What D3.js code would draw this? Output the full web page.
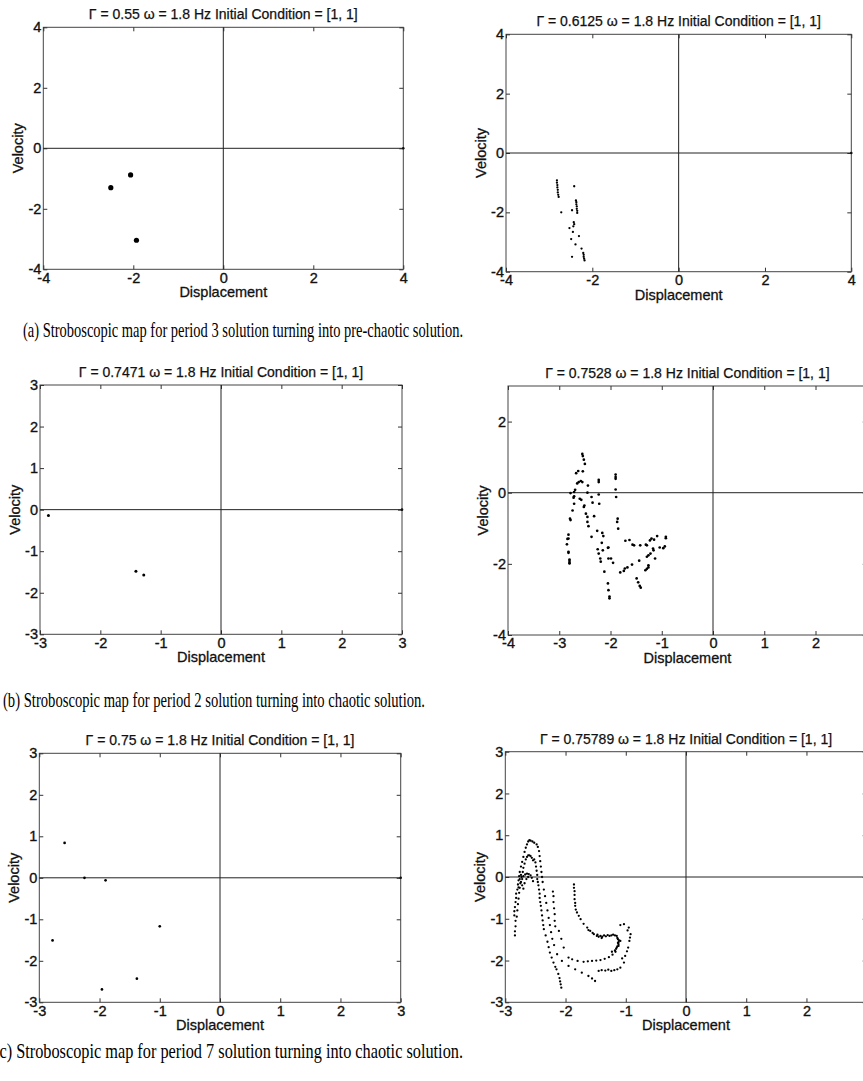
<!DOCTYPE html>
<html>
<head>
<meta charset="utf-8">
<script src="https://cdn.jsdelivr.net/npm/d3@7"></script>
<style>
  body { margin: 0; background: #fff; }
  svg { display: block; }
  .tick text { font-family: "Liberation Sans", Arial, sans-serif; font-size: 14.5px; fill: #111; stroke: #111; stroke-width: 0.35px; }
  .tick line { stroke: #333; }
</style>
</head>
<body>
<div id="chart"></div>
<script>
// panel titles and captions
const titles = [
  'Γ = 0.55 ω = 1.8 Hz Initial Condition = [1, 1]',
  'Γ = 0.6125 ω = 1.8 Hz Initial Condition = [1, 1]',
  'Γ = 0.7471 ω = 1.8 Hz Initial Condition = [1, 1]',
  'Γ = 0.7528 ω = 1.8 Hz Initial Condition = [1, 1]',
  'Γ = 0.75 ω = 1.8 Hz Initial Condition = [1, 1]',
  'Γ = 0.75789 ω = 1.8 Hz Initial Condition = [1, 1]'
];
const captions = [
  '(a) Stroboscopic map for period 3 solution turning into pre-chaotic solution.',
  '(b) Stroboscopic map for period 2 solution turning into chaotic solution.',
  '(c) Stroboscopic map for period 7 solution turning into chaotic solution.'
];

// tick values
const ticks4 = [-4, -2, 0, 2, 4];
const ticks3 = [-3, -2, -1, 0, 1, 2, 3];
const ticks43x = [-4, -3, -2, -1, 0, 1, 2, 3];
const ticks43y = [-4, -2, 0, 2];

// stroboscopic points [displacement, velocity]
const gamma0550 = [[-2.50, -1.30], [-2.06, -0.88], [-1.93, -3.04]];

const gamma06125 = [
  [-2.82, -0.92], [-2.82, -1.00], [-2.81, -1.08], [-2.81, -1.16], [-2.80, -1.24], [-2.80, -1.33],
  [-2.79, -1.41], [-2.78, -1.48], [-2.72, -2.00], [-2.42, -1.12],
  [-2.38, -1.60], [-2.37, -1.66], [-2.37, -1.73], [-2.36, -1.80], [-2.36, -1.88], [-2.35, -1.95], [-2.35, -2.02],
  [-2.47, -1.93], [-2.43, -2.33], [-2.42, -2.40], [-2.44, -2.47], [-2.53, -2.53], [-2.45, -2.66],
  [-2.31, -2.80], [-2.49, -2.90], [-2.39, -3.08], [-2.25, -3.22],
  [-2.21, -3.37], [-2.20, -3.43], [-2.20, -3.50], [-2.19, -3.56], [-2.18, -3.62], [-2.47, -3.50]
];

const gamma07471 = [[-2.86, -0.14], [-1.41, -1.48], [-1.28, -1.57]];

const gamma07528 = [
  [-2.55, 1.09], [-2.54, 1.03], [-2.52, 0.93], [-2.50, 0.81], [-2.67, 0.55], [-2.63, 0.61], [-2.54, 0.60],
  [-2.62, 0.30], [-2.58, 0.33], [-2.55, 0.30], [-2.65, 0.26], [-2.44, 0.20], [-2.23, 0.36], [-2.23, 0.30],
  [-1.90, 0.51], [-1.90, 0.44], [-1.90, 0.39], [-1.90, 0.09], [-1.89, -0.12], [-2.23, -0.05], [-2.45, 0.00],
  [-2.69, 0.08], [-2.71, 0.02], [-2.78, -0.01], [-2.71, -0.10], [-2.72, -0.14], [-2.60, -0.17], [-2.57, -0.20],
  [-2.37, -0.12], [-2.35, -0.28], [-2.22, -0.31], [-2.71, -0.31], [-2.51, -0.36], [-2.52, -0.40], [-2.74, -0.50],
  [-2.48, -0.59], [-2.45, -0.68], [-2.32, -0.66], [-2.79, -0.73], [-2.78, -0.77], [-2.45, -0.82], [-1.86, -0.73],
  [-1.87, -0.82], [-2.43, -0.94], [-1.85, -1.01], [-2.26, -1.07], [-2.16, -1.13], [-2.14, -1.22], [-2.37, -1.24],
  [-2.82, -1.18], [-2.84, -1.30], [-2.17, -1.41], [-1.71, -1.35], [-1.63, -1.33], [-1.57, -1.46], [-1.54, -1.48],
  [-1.42, -1.48], [-1.31, -1.46], [-1.29, -1.48], [-1.23, -1.34], [-1.20, -1.29], [-1.15, -1.32], [-1.09, -1.22],
  [-0.92, -1.24], [-0.92, -1.28], [-0.94, -1.51], [-0.97, -1.56], [-1.04, -1.54], [-1.17, -1.57], [-2.04, -1.54],
  [-2.15, -1.62], [-2.82, -1.69], [-1.26, -1.76], [-1.29, -1.80], [-1.13, -1.85], [-2.20, -1.85], [-2.19, -1.94],
  [-2.04, -1.85], [-2.80, -1.88], [-2.80, -1.97], [-1.44, -1.91], [-1.58, -2.02], [-1.95, -1.97], [-1.72, -2.13],
  [-1.67, -2.10], [-1.26, -2.10], [-1.29, -2.14], [-2.12, -2.22], [-1.81, -2.24], [-1.74, -2.20], [-1.26, -2.04],
  [-1.32, -2.18], [-2.05, -2.55], [-2.04, -2.74], [-2.02, -2.92], [-2.02, -2.97], [-1.49, -2.41], [-1.46, -2.52],
  [-1.43, -2.62], [-1.41, -2.67], [-2.25, -1.59], [-2.23, -1.71], [-1.99, -1.85], [-2.05, -1.55], [-1.22, -1.71],
  [-1.16, -1.62], [-2.82, -1.29], [-2.85, -1.45], [-2.82, -1.66], [-2.80, -1.92], [-2.80, -1.99]
];

const gamma0750 = [
  [-2.58, 0.84], [-2.25, 0.00], [-1.90, -0.06], [-1.00, -1.17], [-2.78, -1.51], [-1.38, -2.43], [-1.96, -2.69]
];

const gamma075789 = [
  // outer arch, left leg
  [-2.84, -1.40], [-2.84, -1.30], [-2.83, -1.18], [-2.83, -1.05], [-2.85, -0.92], [-2.85, -0.82], [-2.84, -0.72],
  [-2.83, -0.60], [-2.82, -0.50], [-2.82, -0.40], [-2.80, -0.30], [-2.79, -0.18], [-2.78, -0.08], [-2.77, 0.02],
  [-2.76, 0.12], [-2.74, 0.25], [-2.72, 0.36], [-2.70, 0.48], [-2.68, 0.60], [-2.66, 0.70], [-2.64, 0.78],
  [-2.62, 0.85], [-2.60, 0.88], [-2.58, 0.87],
  // middle arch, left leg
  [-2.81, -0.95], [-2.80, -0.80], [-2.79, -0.65], [-2.78, -0.52], [-2.77, -0.38], [-2.76, -0.26], [-2.74, -0.12],
  [-2.73, 0.00], [-2.71, 0.12], [-2.70, 0.22], [-2.68, 0.32], [-2.66, 0.42], [-2.64, 0.48], [-2.62, 0.52],
  [-2.60, 0.52], [-2.58, 0.50], [-2.56, 0.46], [-2.54, 0.40],
  // inner arch
  [-2.78, -0.25], [-2.75, -0.15], [-2.72, -0.05], [-2.70, 0.02], [-2.67, 0.06], [-2.64, 0.08], [-2.61, 0.07],
  [-2.58, 0.04], [-2.56, -0.02], [-2.54, -0.10], [-2.72, -0.20], [-2.70, -0.28], [-2.68, -0.15], [-2.65, -0.05],
  [-2.62, 0.00], [-2.76, -0.05], [-2.74, 0.05],
  // outer arch, right side down to (-1.5, -2.5)
  [-2.55, 0.85], [-2.52, 0.82], [-2.48, 0.78], [-2.46, 0.72], [-2.44, 0.62], [-2.43, 0.50], [-2.42, 0.38],
  [-2.41, 0.25], [-2.40, 0.12], [-2.39, 0.00], [-2.38, -0.12], [-2.36, -0.30], [-2.34, -0.46], [-2.32, -0.62],
  [-2.30, -0.80], [-2.28, -0.98], [-2.26, -1.15], [-2.24, -1.32], [-2.22, -1.48], [-2.19, -1.63], [-2.14, -1.85],
  [-2.06, -2.01], [-1.95, -2.13], [-1.84, -2.21], [-1.73, -2.29], [-1.62, -2.37], [-1.56, -2.43], [-1.51, -2.49],
  // middle arch, steep branch
  [-2.52, 0.42], [-2.50, 0.35], [-2.49, 0.25], [-2.48, 0.15], [-2.47, 0.05], [-2.47, -0.05], [-2.46, -0.12],
  [-2.45, -0.20], [-2.44, -0.30], [-2.43, -0.40], [-2.43, -0.50], [-2.42, -0.60], [-2.41, -0.69], [-2.40, -0.80],
  [-2.39, -0.92], [-2.38, -1.04], [-2.37, -1.15], [-2.36, -1.25], [-2.33, -1.40], [-2.30, -1.55], [-2.28, -1.68],
  [-2.26, -1.81], [-2.23, -1.93], [-2.20, -2.05], [-2.17, -2.15], [-2.15, -2.21], [-2.12, -2.32], [-2.10, -2.42],
  [-2.09, -2.50], [-2.08, -2.57], [-2.07, -2.65],
  // branch from x = -2.2 to the loop
  [-2.21, -0.35], [-2.20, -0.46], [-2.20, -0.60], [-2.19, -0.75], [-2.18, -0.89], [-2.18, -1.05], [-2.17, -1.18],
  [-2.11, -1.29], [-2.07, -1.48], [-2.03, -1.69], [-1.95, -1.93], [-1.89, -1.97], [-1.80, -2.01], [-1.70, -2.03],
  [-1.63, -2.02], [-1.56, -2.01], [-1.49, -2.00], [-1.42, -1.99], [-1.35, -1.96], [-1.28, -1.92], [-1.22, -1.86],
  [-1.17, -1.79], [-1.12, -1.65], [-1.09, -1.53],
  // bottom band and outer loop
  [-1.45, -2.25], [-1.40, -2.23], [-1.34, -2.24], [-1.29, -2.22], [-1.24, -2.25], [-1.19, -2.23], [-1.14, -2.21],
  [-1.09, -2.17], [-1.03, -2.05], [-1.01, -1.89], [-0.96, -1.69], [-0.94, -1.53], [-0.92, -1.37], [-0.95, -1.21],
  [-1.03, -1.13], [-1.09, -1.15], [-1.06, -1.95], [-0.98, -1.78], [-0.93, -1.45], [-0.97, -1.28],
  // upper right branch and dense loop
  [-1.86, -0.18], [-1.86, -0.26], [-1.85, -0.34], [-1.85, -0.43], [-1.85, -0.53], [-1.84, -0.62], [-1.84, -0.69],
  [-1.83, -0.78], [-1.81, -0.85], [-1.78, -0.93], [-1.75, -1.01], [-1.70, -1.12], [-1.64, -1.21], [-1.59, -1.29],
  [-1.53, -1.37], [-1.48, -1.41], [-1.45, -1.43], [-1.42, -1.41], [-1.39, -1.43], [-1.36, -1.40], [-1.33, -1.42],
  [-1.30, -1.39], [-1.27, -1.41], [-1.24, -1.40], [-1.21, -1.38], [-1.18, -1.40], [-1.15, -1.41], [-1.13, -1.49],
  [-1.12, -1.56], [-1.12, -1.61], [-1.14, -1.66], [-1.15, -1.69], [-1.18, -1.76], [-1.23, -1.79], [-1.16, -1.72],
  [-1.13, -1.58], [-1.11, -1.52], [-1.14, -1.46], [-1.40, -1.46], [-1.47, -1.38], [-1.55, -1.34], [-1.62, -1.27]
];

const series = [gamma0550, gamma06125, gamma07471, gamma07528, gamma0750, gamma075789];
const dotRadius = [2.6, 1.15, 1.5, 1.35, 1.35, 1.15];

const layout = [
  {left: 43.3, right: 403.3, top: 27.3, bottom: 269.3, xd: [-4, 4], yd: [-4, 4], xt: ticks4, yt: ticks4},
  {left: 506, right: 851.3, top: 34.3, bottom: 271.7, xd: [-4, 4], yd: [-4, 4], xt: ticks4, yt: ticks4},
  {left: 40, right: 402, top: 385, bottom: 634.3, xd: [-3, 3], yd: [-3, 3], xt: ticks3, yt: ticks3},
  {left: 508, right: 866.75, top: 386, bottom: 635, xd: [-4, 3], yd: [-4, 3], xt: ticks43x, yt: ticks43y},
  {left: 39.3, right: 400.7, top: 753.3, bottom: 1002.3, xd: [-3, 3], yd: [-3, 3], xt: ticks3, yt: ticks3},
  {left: 505.3, right: 866.7, top: 751.7, bottom: 1002.3, xd: [-3, 3], yd: [-3, 3], xt: ticks3, yt: ticks3}
];

const captionPos = [
  {x: 23, y: 337, w: 440},
  {x: 3, y: 707, w: 422},
  {x: -6, y: 1058, w: 469}
];

const W = 863, H = 1081;
const fmt = d => String(d);
const font = '"Liberation Sans", Arial, sans-serif';

const svg = d3.select('#chart').append('svg')
  .attr('width', W)
  .attr('height', H);

svg.append('rect').attr('width', W).attr('height', H).attr('fill', '#fff');

layout.forEach(function(L, i) {
  const x = d3.scaleLinear().domain(L.xd).range([L.left, L.right]);
  const y = d3.scaleLinear().domain(L.yd).range([L.bottom, L.top]);
  const g = svg.append('g');

  // frame
  g.append('rect')
    .attr('x', L.left).attr('y', L.top)
    .attr('width', L.right - L.left).attr('height', L.bottom - L.top)
    .attr('fill', 'none').attr('stroke', '#444').attr('stroke-width', 1);

  // inward ticks on all four sides
  g.append('g')
    .attr('transform', 'translate(0,' + L.bottom + ')')
    .call(d3.axisBottom(x).tickValues(L.xt).tickFormat(fmt).tickSizeInner(-4).tickSizeOuter(0).tickPadding(3))
    .call(a => a.select('.domain').remove());
  g.append('g')
    .attr('transform', 'translate(0,' + L.top + ')')
    .call(d3.axisTop(x).tickValues(L.xt).tickFormat('').tickSizeInner(-4).tickSizeOuter(0))
    .call(a => a.select('.domain').remove());
  g.append('g')
    .attr('transform', 'translate(' + L.left + ',0)')
    .call(d3.axisLeft(y).tickValues(L.yt).tickFormat(fmt).tickSizeInner(-4).tickSizeOuter(0).tickPadding(2))
    .call(a => a.select('.domain').remove());
  g.append('g')
    .attr('transform', 'translate(' + L.right + ',0)')
    .call(d3.axisRight(y).tickValues(L.yt).tickFormat('').tickSizeInner(-4).tickSizeOuter(0))
    .call(a => a.select('.domain').remove());

  // zero lines
  g.append('line')
    .attr('x1', x(L.xd[0])).attr('x2', x(L.xd[1]))
    .attr('y1', y(0)).attr('y2', y(0))
    .attr('stroke', '#222').attr('stroke-width', 1);
  g.append('line')
    .attr('x1', x(0)).attr('x2', x(0))
    .attr('y1', y(L.yd[0])).attr('y2', y(L.yd[1]))
    .attr('stroke', '#222').attr('stroke-width', 1);
  g.append('circle').attr('cx', x(L.xd[1])).attr('cy', y(0)).attr('r', 1.3).attr('fill', '#111');

  // points
  g.selectAll('circle.pt')
    .data(series[i])
    .enter().append('circle')
    .attr('class', 'pt')
    .attr('cx', d => x(d[0]))
    .attr('cy', d => y(d[1]))
    .attr('r', dotRadius[i])
    .attr('fill', '#000');

  // title and axis labels
  g.append('text')
    .attr('x', (L.left + L.right) / 2).attr('y', L.top - 8)
    .attr('text-anchor', 'middle')
    .attr('font-family', font).attr('font-size', 14)
    .attr('fill', '#111').attr('stroke', '#111').attr('stroke-width', 0.25)
    .text(titles[i]);
  g.append('text')
    .attr('x', (L.left + L.right) / 2).attr('y', L.bottom + 28)
    .attr('text-anchor', 'middle')
    .attr('font-family', font).attr('font-size', 14.5)
    .attr('fill', '#111').attr('stroke', '#111').attr('stroke-width', 0.3)
    .text('Displacement');
  g.append('text')
    .attr('transform', 'translate(' + (L.left - 20) + ',' + ((L.top + L.bottom) / 2) + ') rotate(-90)')
    .attr('text-anchor', 'middle')
    .attr('font-family', font).attr('font-size', 14.5)
    .attr('fill', '#111').attr('stroke', '#111').attr('stroke-width', 0.3)
    .text('Velocity');
});

captions.forEach(function(c, i) {
  const p = captionPos[i];
  svg.append('text')
    .attr('x', p.x).attr('y', p.y)
    .attr('font-family', '"Liberation Serif", "Times New Roman", serif')
    .attr('font-size', 21)
    .attr('textLength', p.w)
    .attr('lengthAdjust', 'spacingAndGlyphs')
    .attr('fill', '#000')
    .text(c);
});
</script>
</body>
</html>
